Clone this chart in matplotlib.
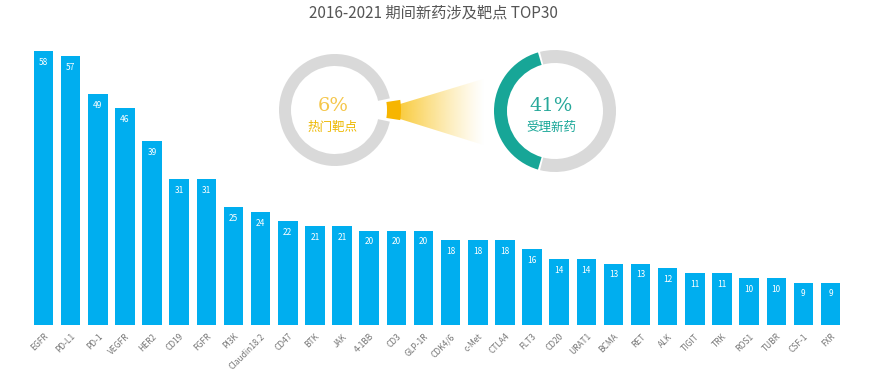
import numpy as np
import matplotlib.pyplot as plt
from matplotlib.patches import Wedge, Polygon

plt.rcParams['font.family'] = ['Noto Sans CJK SC', 'DejaVu Sans']

# Data
targets = ['EGFR', 'PD-L1', 'PD-1', 'VEGFR', 'HER2', 'CD19', 'FGFR', 'PI3K', 'Claudin18.2', 'CD47',
           'BTK', 'JAK', '4-1BB', 'CD3', 'GLP-1R', 'CDK4/6', 'c-Met', 'CTLA4', 'FLT3', 'CD20',
           'URAT1', 'BCMA', 'RET', 'ALK', 'TIGIT', 'TRK', 'ROS1', 'TUBR', 'CSF-1', 'FXR']
counts = [58, 57, 49, 46, 39, 31, 31, 25, 24, 22,
          21, 21, 20, 20, 20, 18, 18, 18, 16, 14,
          14, 13, 13, 12, 11, 11, 10, 10, 9, 9]
hot_share = 6      # 热门靶点 %
drug_share = 41    # 受理新药 %

W, H = 884, 373
fig = plt.figure(figsize=(W / 100, H / 100), dpi=100)
fig.patch.set_facecolor('white')

# Bar chart axes (pixel mapping: bar step ~27.14 px, baseline at y=325)
step = 27.14
left_px = 43.5 - 0.5 * step
ax = fig.add_axes([left_px / W, 48 / H, 30 * step / W, 62 * 4.72 / H])
x = np.arange(len(targets))
bars = ax.bar(x, counts, width=0.72, color='#00AEEF')
ax.set_xlim(-0.5, 29.5)
ax.set_ylim(0, 62)
for s in ax.spines.values():
    s.set_visible(False)
ax.set_yticks([])
ax.set_xticks(x)
ax.set_xticklabels(targets, rotation=45, ha='right', rotation_mode='anchor',
                   fontsize=6, color='#777777')
ax.tick_params(axis='x', length=0, pad=5)
for xi, v in zip(x, counts):
    ax.text(xi, v - 2.4, str(v), ha='center', va='center', color='white', fontsize=6)

# Overlay axes in pixel coordinates for the donut graphic
ov = fig.add_axes([0, 0, 1, 1])
ov.set_xlim(0, W)
ov.set_ylim(H, 0)
ov.axis('off')
ov.patch.set_alpha(0)

# gradient cone
cone = Polygon([(400, 104), (400, 119), (493, 148), (493, 76)], closed=True,
               facecolor='none', edgecolor='none')
ov.add_patch(cone)
grad = np.linspace(0, 1, 256)
alpha = np.clip(1 - grad * 1.1, 0, 1) ** 1.2
img = np.zeros((2, 256, 4))
img[..., 0] = 0.98
img[..., 1] = 0.80
img[..., 2] = 0.25
img[..., 3] = alpha
im = ov.imshow(img, extent=(400, 493, 150, 74), aspect='auto', zorder=1)
im.set_clip_path(cone)

# left donut (hot targets)
cx1, cy1 = 335, 110
ov.add_patch(Wedge((cx1, cy1), 56, 12, 348, width=12, facecolor='#D9D9D9',
                   edgecolor='none', zorder=2))
half = hot_share / 100 * 360 / 2
ov.add_patch(Wedge((cx1, cy1), 66, -half + 2, half - 2, width=14, facecolor='#F7B500',
                   edgecolor='none', zorder=3))
ov.text(cx1 - 2, 106, f'{hot_share}%', ha='center', va='center', fontsize=14,
        color='#F5C64A', family=['DejaVu Serif'], zorder=4)
ov.text(cx1 - 2, 127, '热门靶点', ha='center', va='center', fontsize=9,
        color='#EDB800', zorder=4)

# right donut (accepted new drugs)
cx2, cy2 = 555, 111
span = drug_share / 100 * 360
ov.add_patch(Wedge((cx2, cy2), 61, 180 - span / 2, 180 + span / 2, width=13,
                   facecolor='#17A697', edgecolor='none', zorder=2))
ov.add_patch(Wedge((cx2, cy2), 61, 180 + span / 2 + 2, 180 - span / 2 - 2 + 360, width=13,
                   facecolor='#D9D9D9', edgecolor='none', zorder=2))
ov.text(cx2 - 4, 106, f'{drug_share}%', ha='center', va='center', fontsize=14,
        color='#27A89A', family=['DejaVu Serif'], zorder=4)
ov.text(cx2 - 4, 127, '受理新药', ha='center', va='center', fontsize=9,
        color='#17A697', zorder=4)

# title
ov.text(433, 13, '2016-2021 期间新药涉及靶点 TOP30', ha='center', va='center',
        fontsize=11, color='#555555')

fig.savefig('out.png', dpi=100, facecolor='white')
